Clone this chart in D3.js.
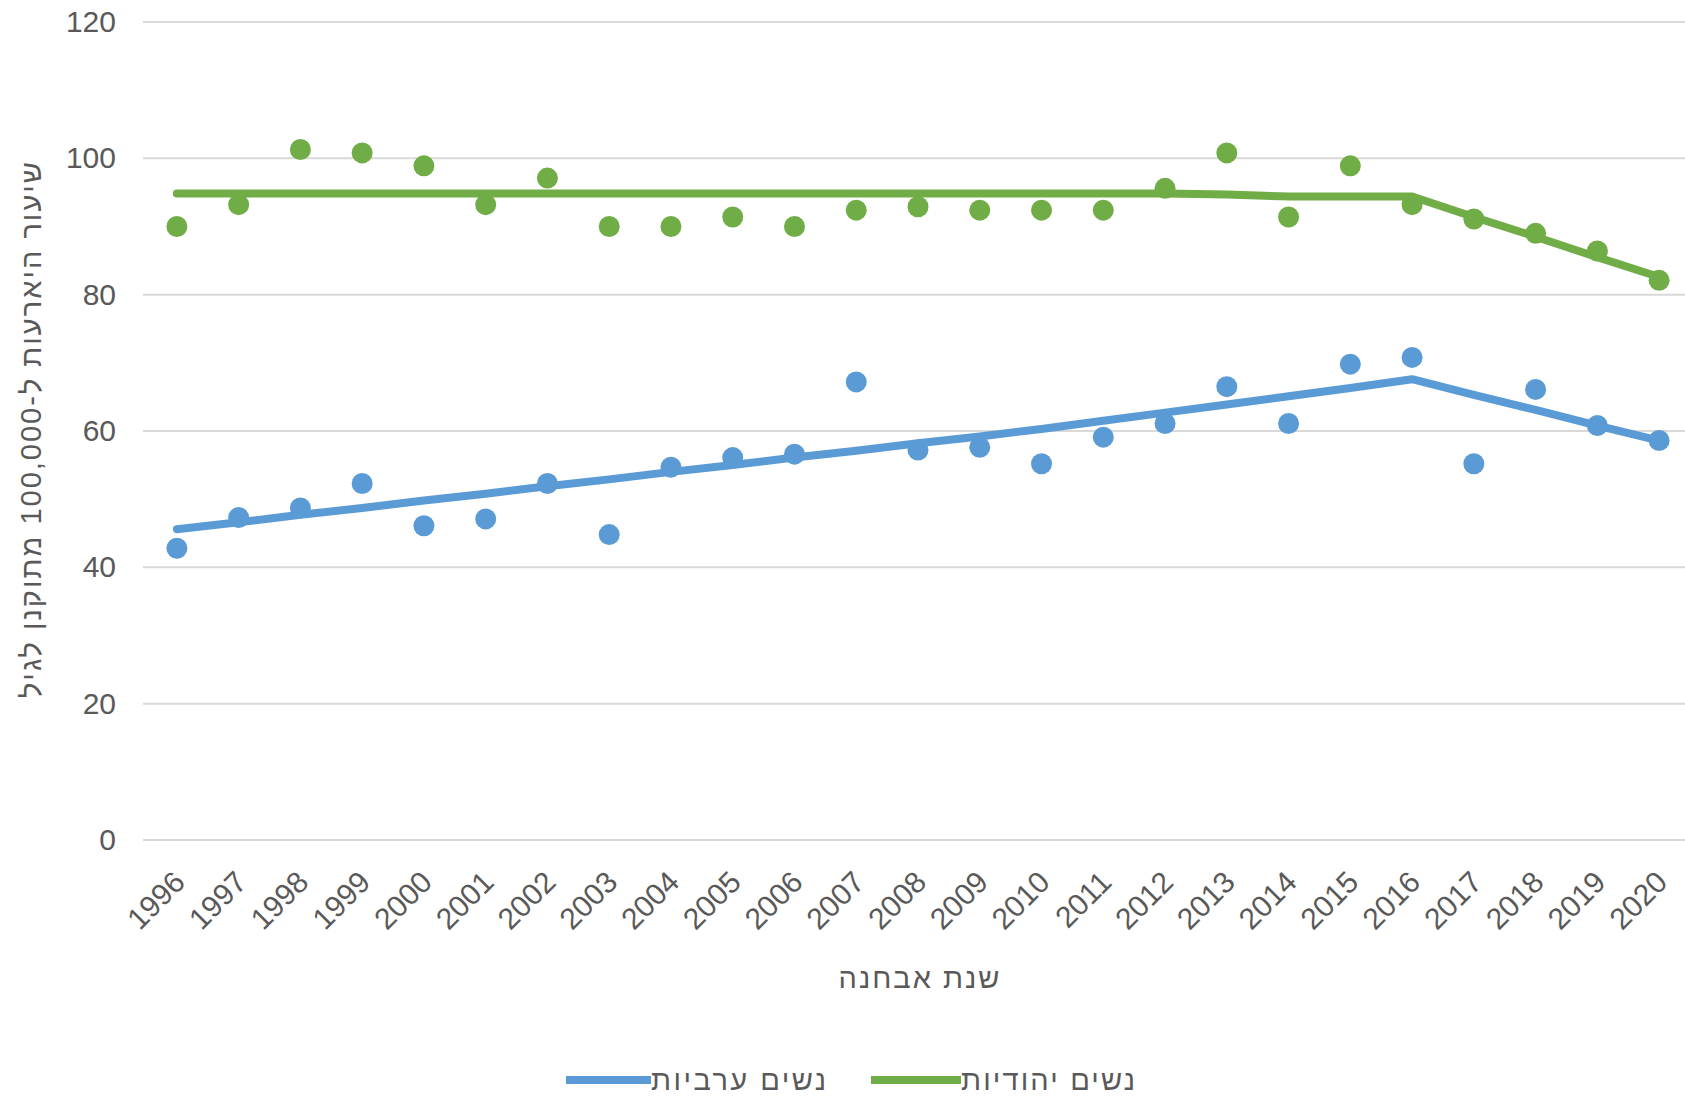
<!DOCTYPE html>
<html lang="he">
<head>
<meta charset="utf-8">
<script src="https://cdn.jsdelivr.net/npm/d3@7"></script>
<style>
  html, body { margin: 0; padding: 0; background: #ffffff; }
  svg { display: block; }
  text { font-family: "Liberation Sans", Arial, sans-serif; fill: #595959; }
</style>
</head>
<body>
<svg id="chart" width="1685" height="1098"></svg>
<script>
// ---- data ----
const years = [1996,1997,1998,1999,2000,2001,2002,2003,2004,2005,2006,2007,2008,2009,2010,2011,2012,2013,2014,2015,2016,2017,2018,2019,2020];

const jewishRates = [90.0,93.2,101.3,100.8,98.9,93.2,97.1,90.0,90.0,91.4,90.0,92.4,92.9,92.4,92.4,92.4,95.6,100.8,91.4,98.9,93.2,91.1,89.0,86.4,82.1];
const jewishTrend = [94.85,94.85,94.85,94.85,94.85,94.85,94.85,94.85,94.85,94.85,94.85,94.85,94.85,94.85,94.85,94.85,94.85,94.7,94.4,94.4,94.4,91.4,88.5,85.5,82.6];

const arabRates = [42.8,47.3,48.7,52.3,46.1,47.1,52.3,44.8,54.7,56.1,56.6,67.2,57.2,57.6,55.2,59.1,61.1,66.5,61.1,69.8,70.8,55.2,66.1,60.8,58.6];
const arabTrend = [45.6,46.6,47.7,48.7,49.8,50.8,51.9,52.9,54.0,55.0,56.1,57.1,58.2,59.2,60.3,61.5,62.7,63.9,65.1,66.3,67.6,65.3,63.1,60.8,58.6];

const yTicks = [0,20,40,60,80,100,120];

const seriesNames = ["נשים ערביות", "נשים יהודיות"];
const yTitle = "שיעור היארעות ל-100,000 מתוקנן לגיל";
const xTitle = "שנת אבחנה";

// ---- layout ----
const W = 1685, H = 1098;
const svg = d3.select("#chart");
const blue = "#5B9BD5", green = "#70AD47";

const x = d3.scaleBand().domain(years).range([146, 1690]).padding(0);
const cx = d => x(d) + x.bandwidth() / 2;
const y = d3.scaleLinear().domain([0, 120]).range([840, 22]);

// y axis labels
const yAxis = d3.axisLeft(y).tickValues(yTicks).tickSize(0).tickPadding(0);
const gy = svg.append("g").attr("transform", "translate(116,0)").call(yAxis);
gy.select(".domain").remove();
gy.selectAll("text").attr("font-size", 30).attr("fill", "#595959")
  .attr("font-family", "Liberation Sans, Arial, sans-serif");

// gridlines
svg.append("g").selectAll("line").data(yTicks).join("line")
  .attr("x1", 143).attr("x2", W)
  .attr("y1", d => y(d)).attr("y2", d => y(d))
  .attr("stroke", "#d9d9d9").attr("stroke-width", 2);

// x axis labels
const xAxis = d3.axisBottom(x).tickSize(0).tickPadding(0);
const gx = svg.append("g").attr("transform", "translate(0,840)").call(xAxis);
gx.select(".domain").remove();
gx.selectAll(".tick text")
  .attr("font-size", 30).attr("fill", "#595959")
  .attr("font-family", "Liberation Sans, Arial, sans-serif")
  .attr("text-anchor", "end")
  .attr("dy", null).attr("y", 0)
  .attr("transform", "translate(10,44) rotate(-45)");

// dots
function dots(data, color) {
  svg.append("g").selectAll("circle").data(data).join("circle")
    .attr("cx", (d, i) => cx(years[i]))
    .attr("cy", d => y(d))
    .attr("r", 10.5)
    .attr("fill", color);
}
dots(jewishRates, green);
dots(arabRates, blue);

// trend lines
const line = d3.line().x((d, i) => cx(years[i])).y(d => y(d));
function trend(data, color) {
  svg.append("path").datum(data)
    .attr("d", line)
    .attr("fill", "none")
    .attr("stroke", color)
    .attr("stroke-width", 8)
    .attr("stroke-linejoin", "round")
    .attr("stroke-linecap", "round");
}
trend(jewishTrend, green);
trend(arabTrend, blue);

// axis titles
svg.append("text")
  .attr("transform", "translate(31,430) rotate(-90)")
  .attr("text-anchor", "middle").attr("dominant-baseline", "central")
  .attr("font-size", 29)
  .attr("textLength", 536).attr("lengthAdjust", "spacing")
  .text(yTitle);

svg.append("text")
  .attr("x", 919).attr("y", 978)
  .attr("text-anchor", "middle").attr("dominant-baseline", "central")
  .attr("font-size", 29)
  .attr("textLength", 161).attr("lengthAdjust", "spacing")
  .text(xTitle);

// legend
const legendItems = [
  { name: seriesNames[0], color: blue, x0: 566, x1: 651, len: 175 },
  { name: seriesNames[1], color: green, x0: 871, x1: 961, len: 174 }
];
const lg = svg.append("g");
legendItems.forEach(it => {
  lg.append("line").attr("x1", it.x0).attr("x2", it.x1)
    .attr("y1", 1080).attr("y2", 1080)
    .attr("stroke", it.color).attr("stroke-width", 8);
  lg.append("text").attr("x", it.x1).attr("y", 1080)
    .attr("dominant-baseline", "central")
    .attr("font-size", 29)
    .attr("textLength", it.len).attr("lengthAdjust", "spacing")
    .text(it.name);
});
</script>
</body>
</html>
